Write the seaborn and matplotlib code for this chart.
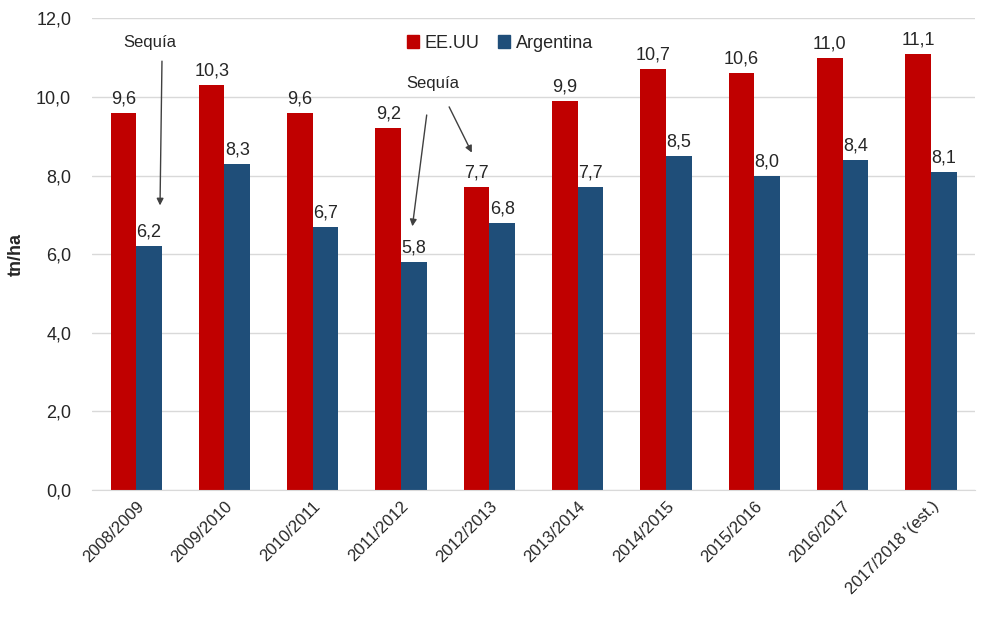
import pandas as pd
import matplotlib.pyplot as plt
import seaborn as sns
from matplotlib.patches import Patch

campanas = ['2008/2009', '2009/2010', '2010/2011', '2011/2012', '2012/2013',
            '2013/2014', '2014/2015', '2015/2016', '2016/2017', '2017/2018 \'(est.)']
eeuu = [9.6, 10.3, 9.6, 9.2, 7.7, 9.9, 10.7, 10.6, 11.0, 11.1]
argentina = [6.2, 8.3, 6.7, 5.8, 6.8, 7.7, 8.5, 8.0, 8.4, 8.1]
series = ['EE.UU', 'Argentina']
colores = {'EE.UU': '#C00000', 'Argentina': '#1F4E79'}

data = pd.DataFrame({
    'Campaña': campanas * 2,
    'Serie': ['EE.UU'] * len(campanas) + ['Argentina'] * len(campanas),
    'Valor': eeuu + argentina,
})

sns.set_style('white')
plt.rcParams['font.family'] = ['Liberation Sans', 'DejaVu Sans']

fig = plt.figure(figsize=(9.89, 6.30), dpi=100)
ax = fig.add_axes([0.093, 0.222, 0.893, 0.749])

sns.barplot(data=data, x='Campaña', y='Valor', hue='Serie', hue_order=series,
            palette=colores, width=0.58, gap=0, saturation=1, linewidth=0,
            ax=ax, legend=False)

# etiquetas de valores
for cont, vals in zip(ax.containers, [eeuu, argentina]):
    ax.bar_label(cont, labels=[f'{v:.1f}'.replace('.', ',') for v in vals],
                 padding=4, fontsize=13, color='#262626')

ax.set_ylim(0, 12)
ax.set_xlim(-0.5, len(campanas) - 0.5)
ax.set_yticks(range(0, 13, 2))
ax.set_yticklabels([f'{t:.1f}'.replace('.', ',') for t in range(0, 13, 2)],
                   fontsize=13, color='#262626')
ax.yaxis.grid(True, color='#D9D9D9', linewidth=1)
ax.set_axisbelow(True)
for s in ['top', 'right', 'left']:
    ax.spines[s].set_visible(False)
ax.spines['bottom'].set_color('#D9D9D9')
ax.tick_params(axis='y', length=0, pad=15)
ax.tick_params(axis='x', length=0, pad=6)
plt.setp(ax.get_xticklabels(), rotation=45, ha='right', rotation_mode='anchor',
         fontsize=12, color='#262626')
ax.set_xlabel('')
ax.set_ylabel('tn/ha', fontsize=13, fontweight='bold', color='#262626', labelpad=8)

# leyenda
handles = [Patch(color=colores[s], label=s) for s in series]
ax.legend(handles=handles, loc='upper center', bbox_to_anchor=(0.462, 1.0), ncol=2,
          frameon=False, fontsize=13, handlelength=0.7, handleheight=0.7,
          handletextpad=0.3, columnspacing=1.0)

# anotaciones de sequía
flecha = dict(arrowstyle='-|>', color='#404040', lw=1, mutation_scale=10)
ax.annotate('', xy=(0.27, 7.17), xytext=(0.293, 10.98), arrowprops=flecha)
ax.text(0.157, 11.39, 'Sequía', ha='center', va='center', fontsize=12, color='#262626')
ax.text(3.362, 10.35, 'Sequía', ha='center', va='center', fontsize=12, color='#262626')
ax.annotate('', xy=(3.124, 6.64), xytext=(3.294, 9.61), arrowprops=flecha)
ax.annotate('', xy=(3.815, 8.52), xytext=(3.53, 9.81), arrowprops=flecha)

plt.savefig('out.png', dpi=100)
